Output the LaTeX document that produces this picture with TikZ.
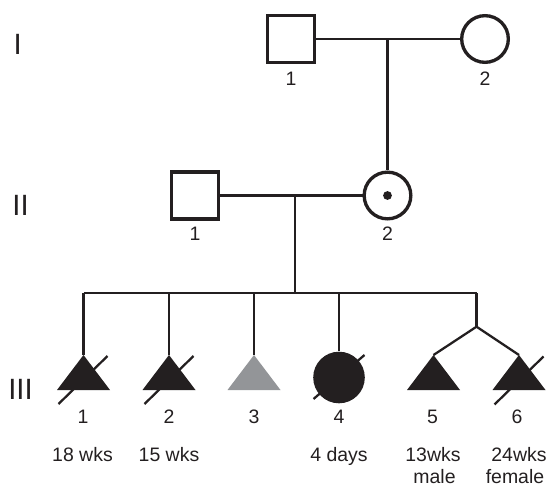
\documentclass[tikz,border=0pt]{standalone}
\usepackage{fontspec}
\setmainfont{Liberation Sans}
\definecolor{ink}{HTML}{231F20}
\definecolor{greyfill}{HTML}{939598}
\begin{document}
\begin{tikzpicture}[x=0.75pt,y=-0.75pt,
  shp/.style={draw=ink,line width=2.5pt,inner sep=0pt,minimum size=35pt,fill=white},
  sq/.style={shp,rectangle},
  circ/.style={shp,circle},
  conn/.style={draw=ink,line width=1.7pt},
  slash/.style={draw=ink,line width=1.7pt},
  lab/.style={font=\fontsize{14.6}{21}\selectfont,text=ink,inner sep=0pt,anchor=base},
  gen/.style={font=\fontsize{22}{26}\selectfont,text=ink,inner sep=0pt},
  tri/.pic={\path[pic actions] (0,0) -- (-26.5,35) -- (26.5,35) -- cycle;}
]
\useasboundingbox (0,0) rectangle (552,488);
% generation labels
\node[gen] (gI) at (17.7,44.2) {I};
\node[gen] (gII) at (20.5,205) {II};
\node[gen] (gIII) at (20.5,389) {III};
% generation I
\node[sq] (i1) at (291,39) {};
\node[circ] (i2) at (485,39) {};
\node[lab] (li1) at (291,85.5) {1};
\node[lab] (li2) at (485,85.5) {2};
\draw[conn] (i1.east) -- (i2.west);
\coordinate (m1) at (387.5,39);
% generation II
\node[sq] (ii1) at (195,195.5) {};
\node[circ] (ii2) at (387.5,195.5) {};
\node[circle,fill=ink,inner sep=0pt,minimum size=6.6pt] (dot) at (ii2.center) {};
\node[lab] (lii1) at (195,240.7) {1};
\node[lab] (lii2) at (387.5,240.7) {2};
\draw[conn] (m1) -- (ii2.north);
\draw[conn] (ii1.east) -- (ii2.west);
\coordinate (m2) at (295,195.5);
\coordinate (s0) at (295,293.3);
\draw[conn] (m2) -- (s0);
% sibship line
\coordinate (s1) at (83.5,293.3);
\coordinate (s2) at (169,293.3);
\coordinate (s3) at (254,293.3);
\coordinate (s4) at (339,293.3);
\coordinate (s5) at (476.5,293.3);
\coordinate (tw) at (476.5,326.7);
\draw[conn] (s1) -- (s5);
% children
\coordinate (a1) at (83.5,355);
\coordinate (a2) at (169,355);
\coordinate (a3) at (254,355);
\coordinate (a5) at (433.5,355);
\coordinate (a6) at (519,355);
\node[circle,fill=ink,inner sep=0pt,minimum size=38.7pt] (c4) at (339,377.5) {};
\draw[conn] (s1) -- (a1);
\draw[conn] (s2) -- (a2);
\draw[conn] (s3) -- (a3);
\draw[conn] (s4) -- (c4.north);
\draw[conn] (s5) -- (tw);
\draw[conn] (tw) -- (a5);
\draw[conn] (tw) -- (a6);
\pic[fill=ink] at (a1) {tri};
\pic[fill=ink] at (a2) {tri};
\pic[fill=greyfill] at (a3) {tri};
\pic[fill=ink] at (a5) {tri};
\pic[fill=ink] at (a6) {tri};
% deceased slashes
\draw[slash] (83,380) +(-24.5,24) -- +(24.5,-24);
\draw[slash] (169,380) +(-24.5,24) -- +(24.5,-24);
\draw[slash] (339,377) +(-25.5,22) -- +(25.5,-22);
\draw[slash] (519,380.5) +(-24.5,24) -- +(24.5,-24);
% labels
\node[lab] (n1) at (83,423.3) {1};
\node[lab] (n2) at (169,423.3) {2};
\node[lab] (n3) at (254,423.3) {3};
\node[lab] (n4) at (339,423.3) {4};
\node[lab] (n5) at (432.5,423.3) {5};
\node[lab] (n6) at (517,423.3) {6};
\node[lab] (d1) at (82.5,461.5) {18 wks};
\node[lab] (d2) at (169,461.5) {15 wks};
\node[lab] (d4) at (339,461.5) {4 days};
\node[lab] (d5) at (433,461.5) {13wks};
\node[lab] (d6) at (519,461.5) {24wks};
\node[lab] (e5) at (434.5,483) {male};
\node[lab] (e6) at (515,483) {female};
\end{tikzpicture}
\end{document}
